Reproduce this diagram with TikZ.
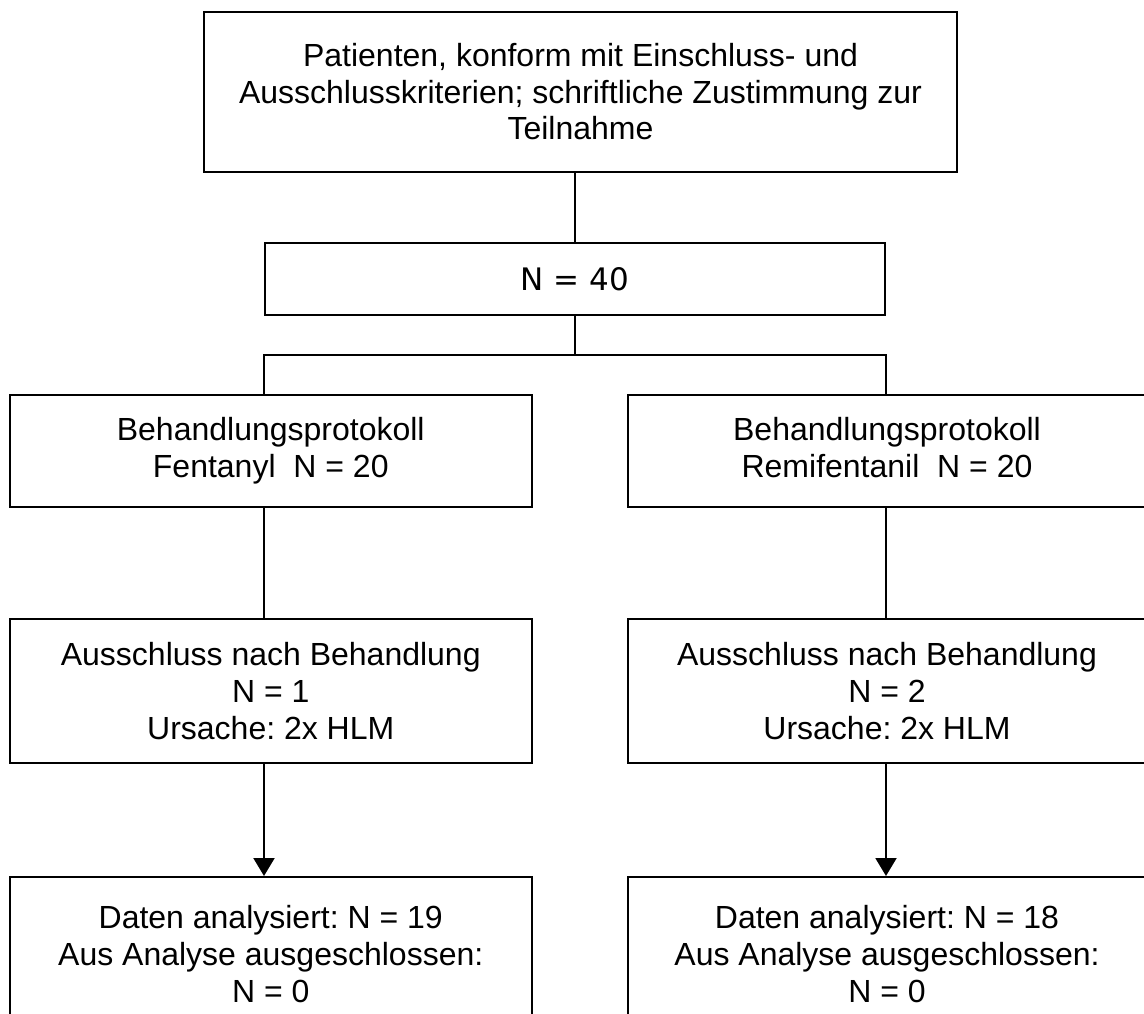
\documentclass[tikz,border=0pt]{standalone}
\usepackage{fontspec}
\setmainfont{Liberation Sans}
\newfontfamily\dejavu{DejaVu Sans}
\usetikzlibrary{arrows.meta}
\frenchspacing

\begin{document}
\begin{tikzpicture}[x=1pt, y=-1pt, line width=2pt,
    box/.style={draw, inner sep=0pt, align=center, font=\fontsize{32}{36.6}\selectfont}]
    \useasboundingbox (0,0) rectangle (1144,1014);
    \clip (0,0) rectangle (1144,1014);

    \node[box, minimum width=753pt, minimum height=160pt] (patients) at (580.5,91.7)
        {Patienten, konform mit Einschluss- und\\Ausschlusskriterien; schriftliche Zustimmung zur\\Teilnahme};
    \node[box, minimum width=620pt, minimum height=72pt, font=\fontsize{31}{36.6}\dejavu] (total) at (575,279) {N = 40};

    \node[box, minimum width=522.5pt, minimum height=112pt] (fenta) at (270.75,451)
        {Behandlungsprotokoll\\Fentanyl~~N = 20};
    \node[box, minimum width=518pt, minimum height=112pt] (remi) at (887,451)
        {Behandlungsprotokoll\\Remifentanil~~N = 20\vphantom{y}};

    \node[box, minimum width=522.5pt, minimum height=144pt] (exfenta) at (270.75,691)
        {Ausschluss nach Behandlung\\N = 1\\Ursache: 2x HLM};
    \node[box, minimum width=518pt, minimum height=144pt] (exremi) at (887,691)
        {Ausschluss nach Behandlung\\N = 2\\Ursache: 2x HLM};

    \node[box, minimum width=522.5pt, minimum height=154pt] (datafenta) at (270.75,954)
        {Daten analysiert: N = 19\\Aus Analyse ausgeschlossen:\\N = 0};
    \node[box, minimum width=518pt, minimum height=154pt] (dataremi) at (887,954)
        {Daten analysiert: N = 18\\Aus Analyse ausgeschlossen:\\N = 0};

    \coordinate (split) at (575,355);

    \draw (total.north) -- (total.north |- patients.south);
    \draw (total.south) -- (split);
    \draw (fenta.north -| total.west) |- (split) -| (remi.north -| total.east);

    \draw (fenta.south -| total.west) -- (exfenta.north -| total.west);
    \draw (remi.south -| total.east) -- (exremi.north -| total.east);

    \draw[-{Triangle[length=18pt,width=21pt]}] (exfenta.south -| total.west) -- (datafenta.north -| total.west);
    \draw[-{Triangle[length=18pt,width=21pt]}] (exremi.south -| total.east) -- (dataremi.north -| total.east);
\end{tikzpicture}
\end{document}
